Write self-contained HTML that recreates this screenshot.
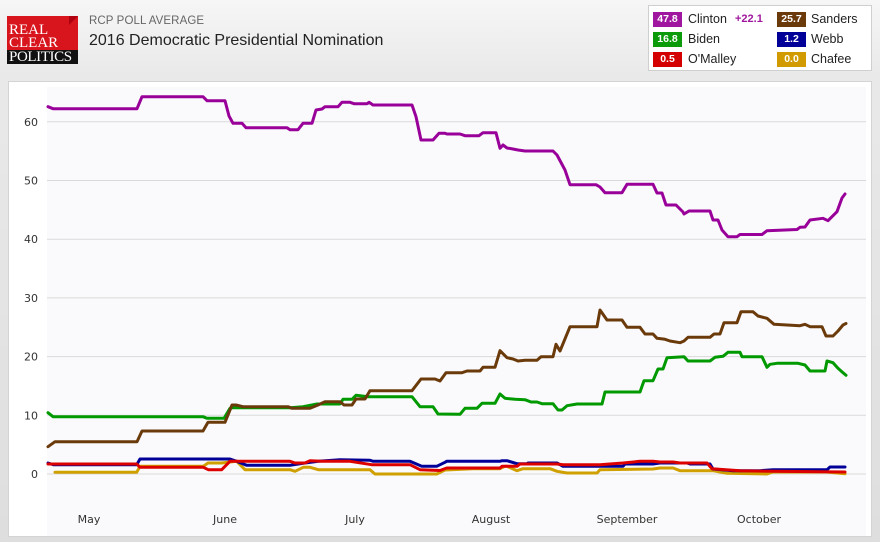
<!DOCTYPE html>
<html><head><meta charset="utf-8"><style>
*{margin:0;padding:0;box-sizing:border-box}
html,body{width:880px;height:542px;overflow:hidden}
body{position:relative;background:linear-gradient(#f6f6f6 0px,#e9e9e9 75px,#dedede 542px);font-family:"Liberation Sans",sans-serif}
.abs{position:absolute}
.logo{left:7px;top:16px;width:71px;height:48px;background:#d8141c;overflow:hidden}
.logo .blk{position:absolute;left:0;top:34px;width:71px;height:14px;background:#111}
.logo span{position:absolute;font-family:"Liberation Serif",serif;color:#fff;font-size:15px;line-height:13px;white-space:nowrap}
.fold{position:absolute;right:0;top:0;width:0;height:0;border-left:9px solid #b00010;border-bottom:9px solid transparent}
.sub{left:89px;top:15px;font-size:11.5px;color:#666;letter-spacing:0.1px}
.title{left:89px;top:32px;font-size:16px;color:#222}
.legend{left:648px;top:5px;width:224px;height:66px;background:#fff;border:1px solid #cfcfcf}
.badge{position:absolute;width:29px;height:15px;color:#fff;font-weight:bold;font-size:10.5px;line-height:15px;text-align:center}
.nm{position:absolute;font-size:12.5px;color:#222;line-height:15px}
.panel{left:8px;top:81px;width:864px;height:456px;background:#fff;border:1px solid #d4d4d4}
</style></head><body>
<div class="abs logo"><div class="fold"></div><div class="blk"></div>
<span style="left:2px;top:8px">REAL</span>
<span style="left:2px;top:21px">CLEAR</span>
<span style="left:2px;top:35px;letter-spacing:-0.4px">POLITICS</span></div>
<div class="abs sub">RCP POLL AVERAGE</div>
<div class="abs title">2016 Democratic Presidential Nomination</div>

<div class="abs legend">
<div class="badge" style="left:4px;top:6px;background:#a0179f">47.8</div>
<div class="nm" style="left:39px;top:6px">Clinton</div>
<div class="nm" style="left:86px;top:6px;font-size:11px;font-weight:bold;color:#a0179f">+22.1</div>
<div class="badge" style="left:128px;top:6px;background:#6b3a0b">25.7</div>
<div class="nm" style="left:162px;top:6px">Sanders</div>
<div class="badge" style="left:4px;top:26px;background:#0a9a0a">16.8</div>
<div class="nm" style="left:39px;top:26px">Biden</div>
<div class="badge" style="left:128px;top:26px;background:#000099">1.2</div>
<div class="nm" style="left:162px;top:26px">Webb</div>
<div class="badge" style="left:4px;top:46px;background:#d40000">0.5</div>
<div class="nm" style="left:39px;top:46px">O'Malley</div>
<div class="badge" style="left:128px;top:46px;background:#d09a00">0.0</div>
<div class="nm" style="left:162px;top:46px">Chafee</div>
</div>

<div class="abs panel"></div>

<svg class="abs" style="left:0;top:0" width="880" height="542" viewBox="0 0 880 542">
<rect x="47" y="87" width="819" height="449" fill="#fafafc"/>
<g stroke="#d9d9d9" stroke-width="1">
<line x1="47" x2="866" y1="121.8" y2="121.8"/>
<line x1="47" x2="866" y1="180.5" y2="180.5"/>
<line x1="47" x2="866" y1="239.2" y2="239.2"/>
<line x1="47" x2="866" y1="297.9" y2="297.9"/>
<line x1="47" x2="866" y1="356.6" y2="356.6"/>
<line x1="47" x2="866" y1="415.3" y2="415.3"/>
<line x1="47" x2="866" y1="474" y2="474"/>
</g>
<g font-family="DejaVu Sans, Verdana, sans-serif" font-size="11" fill="#333" text-anchor="end">
<text x="38" y="125.8">60</text>
<text x="38" y="184.5">50</text>
<text x="38" y="243.2">40</text>
<text x="38" y="301.9">30</text>
<text x="38" y="360.6">20</text>
<text x="38" y="419.3">10</text>
<text x="38" y="478">0</text>
</g>
<g font-family="DejaVu Sans, Verdana, sans-serif" font-size="11" fill="#333" text-anchor="middle">
<text x="89" y="523">May</text>
<text x="225" y="523">June</text>
<text x="355" y="523">July</text>
<text x="491" y="523">August</text>
<text x="627" y="523">September</text>
<text x="759" y="523">October</text>
</g>
<g fill="none" stroke-width="3" stroke-linejoin="round" stroke-linecap="round">
<polyline stroke="#d0a000" points="55,472.3 136.7,472.3 140,466.3 203.3,466.3 208,463 221.7,463 230,462 236.7,461.3 245,469.7 290,469.7 295,471.3 303.3,467.3 310,467.3 318.3,469.7 370,469.7 375,474 436.7,474 445,470 473,468.7 500,468.7 505,466.3 507,466.3 517,470.7 523,468.7 550,468.7 557,471.3 567,473 597,473 600,469.7 653,469 660,468 673,468 680,470.7 713,470.7 720,472 727,473.3 767,474 773,472 827,472 845,473.7"/>
<polyline stroke="#000099" points="48,463 53.3,464.7 136.7,464.7 140,459 230,459 236.7,461.3 246.7,465.3 290,465.3 305,463 318.3,461.3 340,459.7 370,460.3 373.3,461.3 410,461.3 421.7,466.3 436.7,466.3 445,462.3 446.7,461.3 500,461.3 502,460.7 507,460.7 517,463.7 527,463.7 528,463 557,463 563,466.3 623,466.3 625,464 653,464 660,463 687,463 690,464 710,464 713,469 733,470.7 760,470.7 773,469.7 827,469.7 830,467 845,467"/>
<polyline stroke="#dd0000" points="48,464 136.7,464 140,467.3 203.3,467.3 208.3,469.7 221.7,469.7 230,461.3 238.3,461.3 290,461.3 295,463 305,463 310,460.7 321.7,461.3 350,461.3 371.7,464.7 410,464.7 420,469.7 440,470.5 446.7,468 500,468 502,466.3 517,466.3 520,464 557,464 563,464.7 600,464.7 623,463 640,461.3 653,461.3 660,462 673,462 680,463 707,463 712,468.7 740,470.7 773,471.3 845,472"/>
<polyline stroke="#009900" points="48,412.7 53,416.7 203,416.7 207,418.3 224,418.3 230,408.3 233,407.7 290,407.7 303,406.7 317,404 340,404 343,399.3 352,399.3 356,395.3 368,396.7 412,396.7 420,406.7 433,406.7 438,414 460,414.3 465,408.3 477,408.3 482,403.3 495,403.3 500,394 505,398.3 515,399.3 525,399.7 531,402 537,402 542,403.7 553,403.7 558,410 562,410 567,405.7 577,404 602,404 605,392 640,392 644,380.7 653,380.7 658,369 663,369 667,357.7 684,356.7 688,361 710,361 715,357.3 723,356.3 728,352.3 740,352.3 742,356.7 762,356.7 767,367.3 770,364.3 777,363.3 798,363.3 805,365 810,371 825,371 827,361 833,362.7 838,368.3 843,372.7 846,375.3"/>
<polyline stroke="#6b3a0b" points="48,446.7 55,441.7 137,441.7 142,431 203,431 208,422.3 225,422.3 232,405 236,405 243,406.7 288,406.7 292,408.3 310,408.3 318,405 325,401.7 340,401.7 344,405 352,405 356,399 365,399 370,390.7 412,390.7 421,379 435,379 440,381 446,372.7 462,372.7 467,371 480,371 483,367.3 495,367.3 500,350.7 507,357.7 513,359 518,361 525,360.3 537,360.3 541,356.7 553,356.7 556,344.3 560,351 570,326.7 597,326.7 600,310 607,320 622,320 627,327.3 640,327.3 645,334 653,334 657,338.3 665,339.3 670,341 680,342.7 684,341 688,337.3 710,337.3 714,334 720,334 724,322.7 737,322.7 741,311.7 753,311.7 758,316 767,318.3 774,324.3 800,325.7 805,324.3 810,326.7 822,326.7 826,336 833,336 838,331 843,325 846,323.5"/>
<polyline stroke="#990099" points="48,106.7 53,108.7 137,108.7 142,96.7 203,96.7 207,100.7 225,100.7 229,116 233,123.3 242,123.3 246,127.7 287,127.7 290,129.7 298,129.7 303,123.3 312,123.3 316,110 322,109 325,106.7 338,106.7 342,102.3 350,102.3 354,103.7 367,103.7 369,102.3 373,105 412,105 416,116.7 421,140 433,140 439,133.3 445,133.3 447,134 460,134 465,135.7 479,135.7 483,132.7 496,132.7 500,148.3 503,145 507,148 513,149 518,150 525,151 553,151 557,155 565,170 570,184.7 596,184.7 600,187 605,192.7 622,192.7 627,184.3 653,184.3 657,193 662,193 666,205 676,205 683,212 684,214 689,211 710,211 713,220 718,220 722,230 728,236.7 737,236.7 740,234.5 762,234.5 767,230.7 797,229.5 800,227.3 805,227 810,220 823,218.3 828,220.7 837,211.7 842,198 845,194"/>
</g>
</svg>
</body></html>
